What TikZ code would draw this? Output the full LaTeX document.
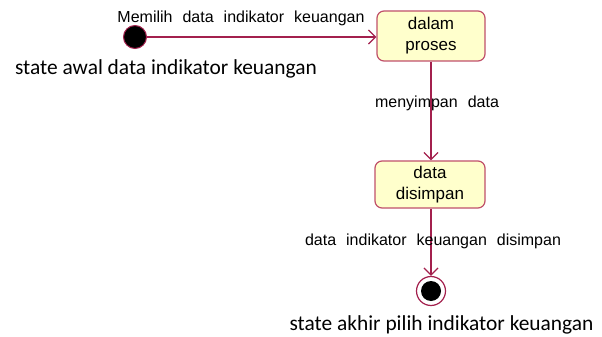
\documentclass[tikz,border=0pt]{standalone}
\usepackage{fontspec}
\setmainfont{Liberation Sans}
\newfontfamily\capfont{Carlito}
\usetikzlibrary{arrows.meta}
\definecolor{flow}{HTML}{A3204D}
\definecolor{stateedge}{HTML}{C0506A}
\definecolor{statefill}{HTML}{FFFFCC}
\newcommand{\gap}{\hspace{10pt}}
\begin{document}
\begin{tikzpicture}[x=1pt,y=-1pt,
  statebox/.style={draw=stateedge,line width=1.2pt,fill=statefill,rounded corners=7pt,
    minimum width=108pt,minimum height=50pt,align=center,font=\fontsize{17}{21}\selectfont,inner sep=0pt},
  flowline/.style={draw=flow,line width=1.3pt,-{Straight Barb[length=7pt,width=14pt,line width=1.3pt]}},
  lbl/.style={font=\fontsize{16}{18}\selectfont,inner sep=0pt},
  captext/.style={font=\capfont\fontsize{21.4}{24}\selectfont,inner sep=0pt}]
\useasboundingbox (0,0) rectangle (602,337);
% initial state
\node[circle,fill=black,draw=flow,line width=1pt,minimum size=23pt,inner sep=0pt] (init) at (135,37) {};
\node[captext] (initcap) at (166,69) {state awal data indikator keuangan};
% states
\node[statebox] (s1) at (431,36) {dalam\\proses};
\node[statebox,minimum width=110pt,minimum height=47pt] (s2) at (430,184.5) {data\\disimpan};
% final state
\node[circle,draw=flow,line width=1.2pt,fill=white,minimum size=29pt,inner sep=0pt] (fin) at (431,291) {};
\node[circle,fill=black,minimum size=20pt,inner sep=0pt] (finin) at (fin.center) {};
\node[captext] (fincap) at (441.5,325) {state akhir pilih indikator keuangan};
% transitions
\draw[flowline] (init) -- (s1.west |- init);
\draw[flowline] (s1.south -| 431,0) -- (s2.north -| 431,0);
\draw[flowline] (s2.south -| 431,0) -- (fin.north);
% transition labels
\node[lbl] (t1) at (241,18) {Memilih\gap data\gap indikator\gap keuangan};
\node[lbl] (t2) at (437,103) {menyimpan\gap data};
\node[lbl] (t3) at (433,241) {data\gap indikator\gap keuangan\gap disimpan};
\end{tikzpicture}
\end{document}
